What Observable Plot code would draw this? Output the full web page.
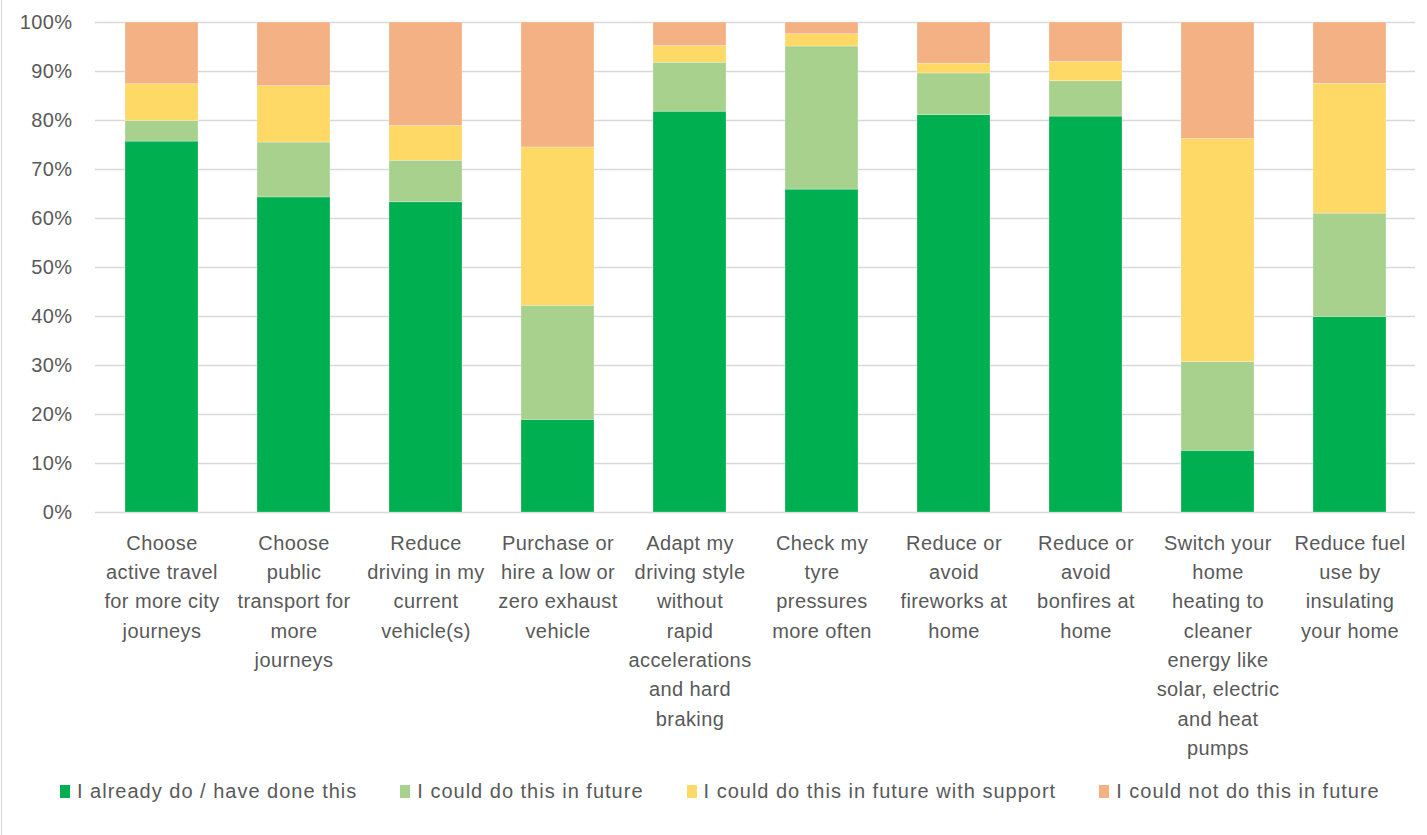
<!DOCTYPE html>
<html>
<head>
<meta charset="utf-8">
<script src="https://cdn.jsdelivr.net/npm/d3@7"></script>
<script src="https://cdn.jsdelivr.net/npm/@observablehq/plot@0.6"></script>
<style>
  html, body { margin: 0; padding: 0; background: #fff; }
  #wrap { position: relative; width: 1427px; height: 835px; overflow: hidden; font-family: "Liberation Sans", Arial, sans-serif; }
  #border { position: absolute; left: 1px; top: 0; width: 1px; height: 835px; background: #d9d9d9; z-index: 5; }
  #chart { position: absolute; left: 0; top: 0; }
  #chart svg text { letter-spacing: 0.4px; }
  #legend { position: absolute; left: 60px; top: 780px; display: flex; align-items: center; font-size: 20px; letter-spacing: 1px; color: #595959; white-space: nowrap; }
  .item { display: flex; align-items: center; margin-right: 43px; }
  .sw { width: 10px; height: 13px; margin-right: 7px; }
</style>
</head>
<body>
<div id="wrap">
  <div id="border"></div>
  <div id="chart"></div>
  <div id="legend"></div>
</div>
<script>
const categories = [
  "Choose\nactive travel\nfor more city\njourneys",
  "Choose\npublic\ntransport for\nmore\njourneys",
  "Reduce\ndriving in my\ncurrent\nvehicle(s)",
  "Purchase or\nhire a low or\nzero exhaust\nvehicle",
  "Adapt my\ndriving style\nwithout\nrapid\naccelerations\nand hard\nbraking",
  "Check my\ntyre\npressures\nmore often",
  "Reduce or\navoid\nfireworks at\nhome",
  "Reduce or\navoid\nbonfires at\nhome",
  "Switch your\nhome\nheating to\ncleaner\nenergy like\nsolar, electric\nand heat\npumps",
  "Reduce fuel\nuse by\ninsulating\nyour home"
];
const seriesNames = [
  "I already do / have done this",
  "I could do this in future",
  "I could do this in future with support",
  "I could not do this in future"
];
const seriesColors = ["#00B050", "#A9D18E", "#FFD966", "#F4B183"];
const alreadyDo = [75.7, 64.3, 63.3, 18.9, 81.8, 65.9, 81.1, 80.8, 12.6, 39.9];
const couldDo = [4.2, 11.2, 8.5, 23.3, 10.0, 29.2, 8.5, 7.2, 18.1, 21.1];
const couldWithSupport = [7.5, 11.5, 7.1, 32.3, 3.4, 2.5, 2.0, 4.0, 45.5, 26.5];
const couldNot = [12.6, 13.0, 21.1, 25.5, 4.8, 2.4, 8.4, 8.0, 23.8, 12.5];
const yTicks = [0, 10, 20, 30, 40, 50, 60, 70, 80, 90, 100];

const seriesValues = [alreadyDo, couldDo, couldWithSupport, couldNot];
const data = [];
categories.forEach((c, i) => {
  seriesValues.forEach((vals, s) => {
    data.push({category: c, series: seriesNames[s], value: vals[i]});
  });
});

const textColor = "#595959";
const chart = Plot.plot({
  width: 1427,
  height: 770,
  marginLeft: 95,
  marginRight: 12,
  marginTop: 22,
  marginBottom: 258,
  style: {fontFamily: '"Liberation Sans", Arial, sans-serif', fontSize: "20px", color: textColor, background: "#fff"},
  x: {domain: categories, paddingInner: 0.447, paddingOuter: 0.2235, label: null},
  y: {domain: [0, 100], label: null},
  color: {domain: seriesNames, range: seriesColors},
  marks: [
    Plot.gridY(yTicks, {stroke: "#d9d9d9", strokeOpacity: 1, strokeWidth: 1.5}),
    Plot.axisY(yTicks, {tickSize: 0, tickPadding: 23, tickFormat: d => d + "%", fontSize: 20, fill: textColor, label: null}),
    Plot.barY(data, {x: "category", y: "value", fill: "series", order: seriesNames, stroke: "#ffffff", strokeWidth: 0.5, strokeOpacity: 0.5}),
    Plot.axisX({tickSize: 0, tickPadding: 16.5, fontSize: 20, fill: textColor, lineHeight: 1.465, lineAnchor: "top", label: null, tickFormat: d => d})
  ]
});
document.getElementById("chart").appendChild(chart);

const legend = document.getElementById("legend");
seriesNames.forEach((n, i) => {
  const it = document.createElement("div");
  it.className = "item";
  const sw = document.createElement("div");
  sw.className = "sw";
  sw.style.background = seriesColors[i];
  const t = document.createElement("span");
  t.textContent = n;
  it.appendChild(sw);
  it.appendChild(t);
  legend.appendChild(it);
});
</script>
</body>
</html>
